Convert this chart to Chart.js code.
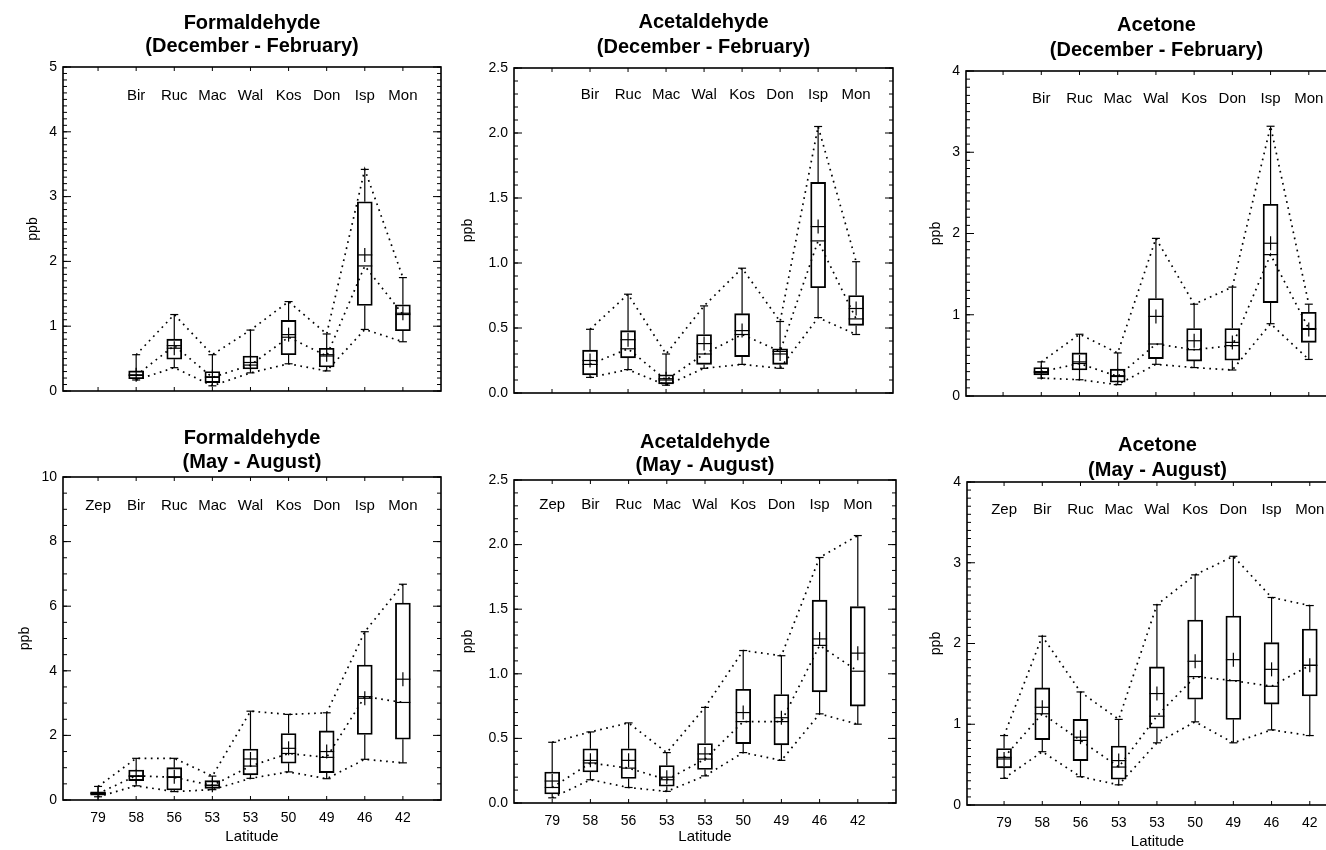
<!DOCTYPE html>
<html>
<head>
<meta charset="utf-8">
<script src="https://cdn.jsdelivr.net/npm/chart.js@4/dist/chart.umd.min.js"></script>
<style>
html, body { margin: 0; padding: 0; background: #fff; width: 1326px; height: 850px; overflow: hidden; position: relative; }
canvas { position: absolute; }
</style>
</head>
<body>
<script>
// Станции и широты
const stations = ['Zep', 'Bir', 'Ruc', 'Mac', 'Wal', 'Kos', 'Don', 'Isp', 'Mon'];
const latitudes = ['79', '58', '56', '53', '53', '50', '49', '46', '42'];

// Значения по станциям: [min, q1, median, mean, q3, max] (ppb)
const formDecFeb = [null,
    [0.17, 0.19, 0.24, 0.25, 0.31, 0.56],
    [0.36, 0.49, 0.70, 0.66, 0.80, 1.18],
    [0.08, 0.13, 0.21, 0.22, 0.30, 0.56],
    [0.28, 0.34, 0.40, 0.44, 0.54, 0.94],
    [0.42, 0.56, 0.83, 0.87, 1.09, 1.38],
    [0.31, 0.37, 0.54, 0.56, 0.66, 0.88],
    [0.95, 1.32, 1.93, 2.10, 2.92, 3.42],
    [0.76, 0.93, 1.18, 1.20, 1.33, 1.75]];
const acetDecFeb = [null,
    [0.12, 0.14, 0.22, 0.25, 0.33, 0.49],
    [0.18, 0.27, 0.34, 0.41, 0.48, 0.76],
    [0.06, 0.07, 0.10, 0.11, 0.14, 0.30],
    [0.19, 0.22, 0.30, 0.38, 0.45, 0.67],
    [0.22, 0.28, 0.45, 0.48, 0.61, 0.96],
    [0.19, 0.22, 0.32, 0.30, 0.34, 0.55],
    [0.58, 0.81, 1.17, 1.28, 1.62, 2.05],
    [0.45, 0.52, 0.57, 0.65, 0.75, 1.01]];
const acetoneDecFeb = [null,
    [0.22, 0.26, 0.30, 0.29, 0.35, 0.42],
    [0.20, 0.32, 0.40, 0.42, 0.53, 0.76],
    [0.14, 0.17, 0.24, 0.25, 0.33, 0.53],
    [0.39, 0.46, 0.64, 0.98, 1.20, 1.94],
    [0.35, 0.43, 0.57, 0.68, 0.83, 1.13],
    [0.32, 0.44, 0.62, 0.66, 0.83, 1.34],
    [0.89, 1.15, 1.74, 1.88, 2.36, 3.32],
    [0.45, 0.66, 0.83, 0.82, 1.03, 1.13]];
const formMayAug = [
    [0.10, 0.15, 0.20, 0.21, 0.25, 0.42],
    [0.44, 0.60, 0.75, 0.73, 0.93, 1.29],
    [0.26, 0.31, 0.70, 0.72, 1.00, 1.29],
    [0.32, 0.36, 0.45, 0.46, 0.60, 0.74],
    [0.67, 0.78, 1.05, 1.27, 1.58, 2.75],
    [0.87, 1.14, 1.44, 1.60, 2.06, 2.65],
    [0.66, 0.85, 1.32, 1.50, 2.14, 2.70],
    [1.26, 2.03, 3.20, 3.15, 4.18, 5.21],
    [1.15, 1.88, 3.02, 3.74, 6.10, 6.68]];
const acetMayAug = [
    [0.04, 0.07, 0.12, 0.17, 0.24, 0.47],
    [0.18, 0.24, 0.31, 0.33, 0.42, 0.55],
    [0.12, 0.19, 0.27, 0.33, 0.42, 0.62],
    [0.09, 0.13, 0.18, 0.20, 0.29, 0.39],
    [0.21, 0.26, 0.34, 0.38, 0.46, 0.74],
    [0.39, 0.46, 0.63, 0.70, 0.88, 1.18],
    [0.33, 0.45, 0.63, 0.66, 0.84, 1.14],
    [0.69, 0.86, 1.22, 1.27, 1.57, 1.90],
    [0.61, 0.75, 1.02, 1.16, 1.52, 2.07]];
const acetoneMayAug = [
    [0.33, 0.46, 0.59, 0.57, 0.70, 0.86],
    [0.66, 0.81, 1.13, 1.21, 1.45, 2.09],
    [0.35, 0.55, 0.80, 0.84, 1.06, 1.40],
    [0.25, 0.32, 0.47, 0.55, 0.73, 1.06],
    [0.77, 0.95, 1.10, 1.38, 1.71, 2.48],
    [1.03, 1.31, 1.59, 1.78, 2.29, 2.85],
    [0.77, 1.06, 1.54, 1.80, 2.34, 3.08],
    [0.93, 1.25, 1.47, 1.68, 2.01, 2.57],
    [0.86, 1.35, 1.73, 1.73, 2.18, 2.47]];

// Подписи делений оси Y
const ticksForm5 = [0, 1, 2, 3, 4, 5];
const ticksAcet = [0, 0.5, 1.0, 1.5, 2.0, 2.5];
const ticksAcetone = [0, 1, 2, 3, 4];
const ticksForm10 = [0, 2, 4, 6, 8, 10];

const FONT = '"Liberation Sans", Arial, Helvetica, sans-serif';
const TOP_PAD = 70;
const Y_W = 63;
const X_H = 50;
const R_PAD = 12;

// Панели: положение области графика на странице и оформление
const panels = [
    { title: ['Formaldehyde', '(December - February)'], data: formDecFeb, ticks: ticksForm5, minor: 0.1, digits: 0,
      area: { l: 63, t: 67, r: 441, b: 391 }, xMin: -0.92, xMax: 9.0, lat: false, ppbOff: 30, t1: 44, t2: 21, lblOff: 29 },
    { title: ['Acetaldehyde', '(December - February)'], data: acetDecFeb, ticks: ticksAcet, minor: 0.1, digits: 1,
      area: { l: 514, t: 68, r: 893, b: 393 }, xMin: -1.0, xMax: 8.97, lat: false, ppbOff: 46, t1: 46, t2: 21, lblOff: 27 },
    { title: ['Acetone', '(December - February)'], data: acetoneDecFeb, ticks: ticksAcetone, minor: 0.1, digits: 0,
      area: { l: 966, t: 71, r: 1347, b: 396 }, xMin: -0.97, xMax: 9.0, lat: false, ppbOff: 30, t1: 46, t2: 21, lblOff: 28 },
    { title: ['Formaldehyde', '(May - August)'], data: formMayAug, ticks: ticksForm10, minor: 0.5, digits: 0,
      area: { l: 63, t: 477, r: 441, b: 800 }, xMin: -0.92, xMax: 9.0, lat: true, ppbOff: 38, t1: 39, t2: 15, lblOff: 29, latOff: 37 },
    { title: ['Acetaldehyde', '(May - August)'], data: acetMayAug, ticks: ticksAcet, minor: 0.1, digits: 1,
      area: { l: 514, t: 480, r: 896, b: 803 }, xMin: -1.0, xMax: 9.0, lat: true, ppbOff: 46, t1: 38, t2: 15, lblOff: 25, latOff: 34 },
    { title: ['Acetone', '(May - August)'], data: acetoneMayAug, ticks: ticksAcetone, minor: 0.1, digits: 0,
      area: { l: 967, t: 482, r: 1348, b: 805 }, xMin: -0.97, xMax: 9.0, lat: true, ppbOff: 31, t1: 37, t2: 12, lblOff: 28, latOff: 37 }
];

function line(ctx, x1, y1, x2, y2) {
    ctx.beginPath();
    ctx.moveTo(x1, y1);
    ctx.lineTo(x2, y2);
    ctx.stroke();
}

// Усы, медиана и среднее (+)
function boxPlugin(p) {
    return {
        id: 'boxExtras',
        afterDatasetsDraw(chart) {
            const ctx = chart.ctx, xs = chart.scales.x, ys = chart.scales.y;
            ctx.save();
            ctx.strokeStyle = '#000';
            ctx.lineWidth = 1.2;
            p.data.forEach((d, i) => {
                if (!d) return;
                const px = xs.getPixelForValue(i);
                const [mn, q1, med, mean, q3, mx] = d.map(v => ys.getPixelForValue(v));
                line(ctx, px, q3, px, mx);
                line(ctx, px, q1, px, mn);
                line(ctx, px - 4, mx, px + 4, mx);
                line(ctx, px - 4, mn, px + 4, mn);
                line(ctx, px - 7.5, med, px + 7.5, med);
                line(ctx, px - 7.5, mean, px + 7.5, mean);
                line(ctx, px, mean - 7, px, mean + 7);
            });
            ctx.restore();
        },
        afterDraw(chart) {
            const ctx = chart.ctx, a = chart.chartArea, xs = chart.scales.x, ys = chart.scales.y;
            ctx.save();
            ctx.strokeStyle = '#000';
            ctx.fillStyle = '#000';
            // рамка
            ctx.lineWidth = 1.6;
            ctx.strokeRect(a.left, a.top, a.right - a.left, a.bottom - a.top);
            // внутренние деления
            ctx.lineWidth = 1;
            const yMax = p.ticks[p.ticks.length - 1];
            for (let k = 0; k * p.minor <= yMax + 1e-9; k++) {
                const py = ys.getPixelForValue(k * p.minor);
                line(ctx, a.left, py, a.left + 4, py);
                line(ctx, a.right, py, a.right - 4, py);
            }
            p.ticks.forEach(v => {
                const py = ys.getPixelForValue(v);
                line(ctx, a.left, py, a.left + 8, py);
                line(ctx, a.right, py, a.right - 8, py);
            });
            stations.forEach((s, i) => {
                const px = xs.getPixelForValue(i);
                line(ctx, px, a.bottom, px, a.bottom - 4);
                line(ctx, px, a.top, px, a.top + 4);
            });
            // заголовок
            const cx = (a.left + a.right) / 2;
            ctx.textAlign = 'center';
            ctx.textBaseline = 'middle';
            ctx.font = 'bold 20px ' + FONT;
            ctx.fillText(p.title[0], cx, a.top - p.t1);
            ctx.fillText(p.title[1], cx, a.top - p.t2);
            // названия станций
            ctx.font = '15px ' + FONT;
            p.data.forEach((d, i) => {
                if (!d) return;
                ctx.fillText(stations[i], xs.getPixelForValue(i), a.top + p.lblOff);
            });
            // подпись оси X
            if (p.lat) {
                ctx.fillText('Latitude', cx, a.bottom + p.latOff);
            }
            // подпись оси Y
            ctx.font = '14px ' + FONT;
            ctx.translate(a.left - p.ppbOff, (a.top + a.bottom) / 2);
            ctx.rotate(-Math.PI / 2);
            ctx.fillText('ppb', 0, 0);
            ctx.restore();
        }
    };
}

function createPanel(p) {
    const canvas = document.createElement('canvas');
    const w = (p.area.r - p.area.l) + Y_W + R_PAD;
    const h = (p.area.b - p.area.t) + TOP_PAD + X_H;
    canvas.width = w;
    canvas.height = h;
    canvas.style.left = (p.area.l - Y_W) + 'px';
    canvas.style.top = (p.area.t - TOP_PAD) + 'px';
    canvas.style.width = w + 'px';
    canvas.style.height = h + 'px';
    document.body.appendChild(canvas);

    const pts = (k) => p.data.map((d, i) => d ? { x: i, y: d[k] } : null).filter(Boolean);
    const dotted = (k) => ({
        type: 'line',
        data: pts(k),
        borderColor: '#000',
        borderWidth: 1.7,
        borderDash: [1.7, 4.5],
        pointRadius: 0,
        fill: false,
        tension: 0
    });

    try {
        return new Chart(canvas, {
            type: 'bar',
            data: {
                datasets: [
                    {
                        type: 'bar',
                        data: p.data.map((d, i) => d ? { x: i, y: [d[1], d[4]] } : null).filter(Boolean),
                        backgroundColor: 'rgba(0,0,0,0)',
                        borderColor: '#000',
                        borderWidth: 1.2,
                        borderSkipped: false,
                        barThickness: 15
                    },
                    dotted(5),
                    dotted(2),
                    dotted(0)
                ]
            },
            options: {
                responsive: false,
                animation: false,
                devicePixelRatio: 1,
                layout: { padding: { top: TOP_PAD, right: R_PAD, bottom: 0, left: 0 } },
                plugins: { legend: { display: false }, tooltip: { enabled: false } },
                scales: {
                    x: {
                        type: 'linear',
                        min: p.xMin,
                        max: p.xMax,
                        offset: false,
                        grid: { display: false, drawTicks: false },
                        border: { display: false },
                        afterBuildTicks: (s) => { s.ticks = latitudes.map((_, i) => ({ value: i })); },
                        afterFit: (s) => { s.height = X_H; },
                        ticks: {
                            display: p.lat,
                            autoSkip: false,
                            maxRotation: 0,
                            padding: 10,
                            color: '#000',
                            font: { family: FONT, size: 14 },
                            callback: (v) => latitudes[v] !== undefined ? latitudes[v] : ''
                        }
                    },
                    y: {
                        type: 'linear',
                        min: 0,
                        max: p.ticks[p.ticks.length - 1],
                        grid: { display: false, drawTicks: false },
                        border: { display: false },
                        afterBuildTicks: (s) => { s.ticks = p.ticks.map(v => ({ value: v })); },
                        afterFit: (s) => { s.width = Y_W; },
                        ticks: {
                            padding: 6,
                            color: '#000',
                            font: { family: FONT, size: 14 },
                            callback: (v) => Number(v).toFixed(p.digits)
                        }
                    }
                }
            },
            plugins: [boxPlugin(p)]
        });
    } catch (error) {
        console.error('Error creating chart:', error);
        return null;
    }
}

panels.forEach(createPanel);
</script>
</body>
</html>
